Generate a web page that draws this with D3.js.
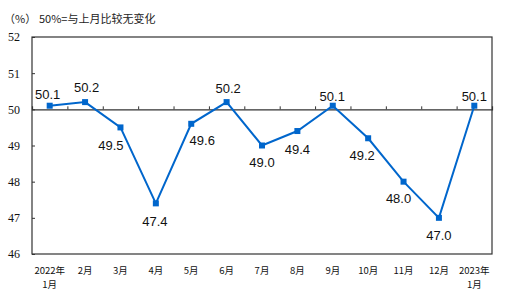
<!DOCTYPE html>
<html>
<head>
<meta charset="utf-8">
<script src="https://cdn.jsdelivr.net/npm/d3@7"></script>
<style>
  body { margin: 0; background: #fff; }
  svg { display: block; }
</style>
</head>
<body>
<div id="chart"></div>
<script>
// Month labels (two lines where needed)
var months = [
  ["2022年", "1月"], ["2月"], ["3月"], ["4月"], ["5月"], ["6月"], ["7月"],
  ["8月"], ["9月"], ["10月"], ["11月"], ["12月"], ["2023年", "1月"]
];
// PMI values
var values = [50.1, 50.2, 49.5, 47.4, 49.6, 50.2, 49.0, 49.4, 50.1, 49.2, 48.0, 47.0, 50.1];
// Y axis ticks
var yTicks = [46, 47, 48, 49, 50, 51, 52];

// Where to put each value label relative to its point [dx, dy]
var labelOffsets = [
  [-2, -6.5], [1.5, -10], [-9.5, 22.5], [-1, 22.5], [11, 21.5], [1.5, -9.5], [0, 21],
  [0, 22.5], [-0.5, -5], [-6, 22], [-5, 21.5], [0, 22], [0, -5]
];

var W = 516, H = 302;
var margin = {left: 32, right: 24, top: 37, bottom: 48};
var width = W - margin.left - margin.right;
var height = H - margin.top - margin.bottom;
var lineColor = "#0066cc";
var font = "'Liberation Sans', Arial, sans-serif";
var cjkFont = "'Noto Sans CJK SC', sans-serif";

var svg = d3.select("#chart").append("svg")
  .attr("width", W)
  .attr("height", H);

var chart = svg.append("g")
  .attr("transform", "translate(" + margin.left + "," + margin.top + ")");

var x = d3.scaleBand()
  .domain(d3.range(months.length))
  .range([0, width]);

var y = d3.scaleLinear()
  .domain([46, 52])
  .range([height, 0]);

// Header text
svg.append("text")
  .attr("x", 4).attr("y", 23)
  .style("font-family", cjkFont)
  .style("font-size", "11px")
  .attr("fill", "#222")
  .text("（%）");
svg.append("text")
  .attr("x", 39).attr("y", 23)
  .style("font-family", cjkFont)
  .style("font-size", "11px")
  .attr("fill", "#222")
  .text("50%=与上月比较无变化");

// Frame
chart.append("rect")
  .attr("x", 0).attr("y", 0)
  .attr("width", width).attr("height", height)
  .attr("fill", "none")
  .attr("stroke", "#333")
  .attr("stroke-width", 1.2);

// Y axis (ticks point inward)
var yAxis = d3.axisLeft(y)
  .tickValues(yTicks)
  .tickFormat(d3.format("d"))
  .tickSizeInner(-3)
  .tickSizeOuter(0)
  .tickPadding(12);

var yg = chart.append("g").call(yAxis);
yg.select(".domain").remove();
yg.selectAll("line").attr("stroke", "#333");
yg.selectAll("text")
  .style("font-family", "'Liberation Serif', serif")
  .style("font-size", "12px")
  .attr("fill", "#111");

// 50 reference line with upward ticks at month boundaries
var x50 = d3.axisTop(d3.scaleLinear().domain([0, months.length]).range([0, width]))
  .tickValues(d3.range(1, months.length))
  .tickSize(3)
  .tickFormat("");
var xg = chart.append("g")
  .attr("transform", "translate(0," + y(50) + ")")
  .call(x50);
xg.select(".domain").attr("stroke", "#333").attr("stroke-width", 1.2);
xg.selectAll("line").attr("stroke", "#333");

// Month labels under the chart, one text per line
var lines = [];
months.forEach(function (m, i) {
  m.forEach(function (t, j) { lines.push({i: i, row: j, text: t}); });
});

chart.append("g")
  .selectAll("text")
  .data(lines)
  .enter()
  .append("text")
  .attr("text-anchor", "middle")
  .attr("x", function (d) { return x(d.i) + x.bandwidth() / 2; })
  .attr("y", function (d) { return height + 20 + d.row * 14; })
  .style("font-family", cjkFont)
  .style("font-size", "9.5px")
  .attr("fill", "#111")
  .text(function (d) { return d.text; });

// Line
var line = d3.line()
  .x(function (d, i) { return x(i) + x.bandwidth() / 2; })
  .y(function (d) { return y(d); });

chart.append("path")
  .datum(values)
  .attr("d", line)
  .attr("fill", "none")
  .attr("stroke", lineColor)
  .attr("stroke-width", 2);

// Square markers
var size = 6;
chart.append("g")
  .selectAll("rect")
  .data(values)
  .enter()
  .append("rect")
  .attr("x", function (d, i) { return x(i) + x.bandwidth() / 2 - size / 2; })
  .attr("y", function (d) { return y(d) - size / 2; })
  .attr("width", size)
  .attr("height", size)
  .attr("fill", lineColor);

// Value labels
chart.append("g")
  .selectAll("text")
  .data(values)
  .enter()
  .append("text")
  .attr("text-anchor", "middle")
  .attr("x", function (d, i) { return x(i) + x.bandwidth() / 2 + labelOffsets[i][0]; })
  .attr("y", function (d, i) { return y(d) + labelOffsets[i][1]; })
  .style("font-family", font)
  .style("font-size", "13px")
  .attr("fill", "#111")
  .text(function (d) { return d3.format(".1f")(d); });
</script>
</body>
</html>
